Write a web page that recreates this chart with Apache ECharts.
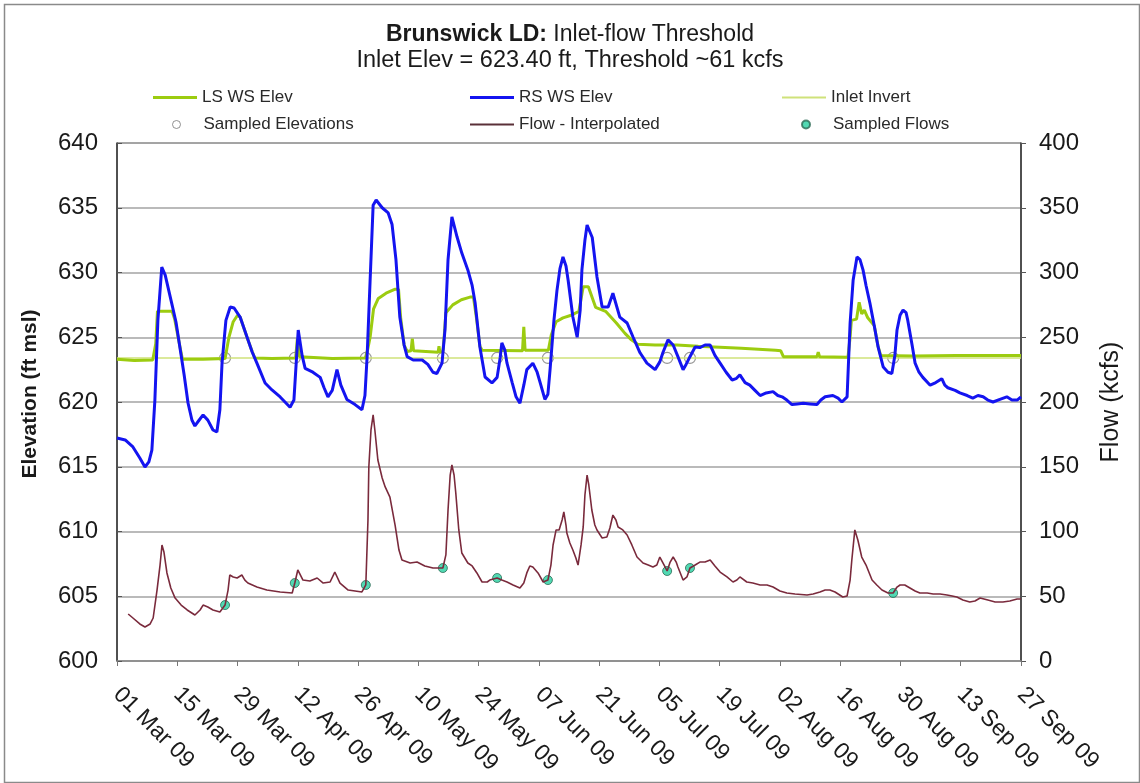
<!DOCTYPE html>
<html>
<head>
<meta charset="utf-8">
<script src="https://cdn.jsdelivr.net/npm/echarts@6/dist/echarts.min.js"></script>
<style>
html,body{margin:0;padding:0;background:#fff;}
#chart{width:1140px;height:783px;}
</style>
</head>
<body>
<div id="chart"></div>
<script>
// x values are days since 01 Mar 2009
const xTickLabels = ['01 Mar 09','15 Mar 09','29 Mar 09','12 Apr 09','26 Apr 09','10 May 09','24 May 09','07 Jun 09','21 Jun 09','05 Jul 09','19 Jul 09','02 Aug 09','16 Aug 09','30 Aug 09','13 Sep 09','27 Sep 09'];
const elevTicks = [600, 605, 610, 615, 620, 625, 630, 635, 640];
const flowTicks = [0, 50, 100, 150, 200, 250, 300, 350, 400];
const inletInvert = 623.40;

const rsElev = [[0,617.22],[1.9,617.07],[3.7,616.53],[5.3,615.68],[6.5,614.98],[7.4,615.37],[8.1,616.29],[8.8,620.15],[9.5,626.33],[10.4,630.42],[11.2,629.8],[12.7,627.64],[13.7,626.18],[14.6,624.25],[15.6,622.09],[16.5,619.92],[17.4,618.61],[18.1,618.15],[19.1,618.61],[20.0,619.0],[21.1,618.6],[22.3,617.84],[23.2,617.68],[23.9,619.4],[24.4,623.0],[25.3,626.3],[26.3,627.34],[27.2,627.26],[28.6,626.56],[30.2,625.02],[31.4,623.86],[32.5,623.0],[34.4,621.47],[36.0,620.93],[37.9,620.39],[40.2,619.6],[41.1,620.15],[42.1,625.56],[43.0,623.6],[43.7,622.6],[45.5,622.3],[47.2,621.9],[48.1,621.1],[49.0,620.4],[50.0,620.9],[51.1,622.5],[52.0,621.3],[53.4,620.2],[55.3,619.8],[56.9,619.4],[57.6,620.5],[58.1,623.5],[58.8,629.4],[59.5,635.2],[60.2,635.6],[61.6,635.0],[63.0,634.6],[63.9,633.7],[64.8,631.0],[65.7,626.56],[66.7,624.4],[67.4,623.5],[68.8,623.24],[70.9,623.24],[72.2,622.9],[73.4,622.3],[74.3,622.2],[75.5,623.0],[76.2,625.6],[76.9,631.0],[77.8,634.29],[79.0,632.74],[80.1,631.5],[81.5,630.2],[82.5,629.0],[83.2,627.64],[84.3,624.25],[85.5,621.93],[87.1,621.47],[88.3,621.9],[89.0,623.4],[89.4,624.56],[90.1,624.0],[90.6,623.0],[91.8,621.5],[92.7,620.4],[93.6,619.9],[94.5,621.3],[95.2,622.5],[96.6,623.0],[97.6,622.3],[98.3,621.5],[99.4,620.2],[100.1,620.6],[100.6,622.5],[101.5,626.3],[102.2,628.6],[102.9,630.3],[103.6,631.2],[104.3,630.5],[104.8,629.4],[105.9,626.56],[106.9,625.0],[107.6,627.1],[108.0,630.2],[108.7,632.5],[109.2,633.67],[110.4,632.7],[111.5,629.65],[112.7,627.34],[114.1,627.34],[115.2,628.4],[116.8,626.56],[118.5,626.1],[119.9,625.0],[121.5,623.8],[123.1,623.0],[125.0,622.5],[126.1,623.1],[126.8,623.8],[128.0,624.8],[129.2,624.4],[130.3,623.5],[131.5,622.5],[132.2,622.9],[133.1,623.5],[134.3,624.25],[135.4,624.2],[136.6,624.4],[137.8,624.4],[138.9,623.6],[140.1,623.0],[141.5,622.3],[142.9,621.7],[143.8,621.8],[144.7,622.1],[145.9,621.5],[147.0,621.3],[148.2,620.9],[149.4,620.5],[150.8,620.7],[152.4,620.8],[153.5,620.5],[154.5,620.4],[155.6,620.15],[156.8,619.8],[158.0,619.85],[159.4,619.9],[161.0,619.85],[162.6,619.8],[163.5,620.15],[164.5,620.4],[166.3,620.5],[167.5,620.3],[168.4,620.0],[169.6,620.4],[170.3,626.1],[171.0,629.4],[171.9,631.2],[172.6,631.0],[173.3,630.2],[174.0,629.0],[174.9,627.64],[175.9,625.9],[176.8,624.25],[178.0,622.7],[179.1,622.3],[180.0,622.2],[180.7,623.6],[181.2,625.56],[181.9,626.7],[182.6,627.1],[183.3,626.9],[183.7,626.3],[184.7,624.4],[185.4,623.0],[186.3,622.3],[187.2,621.9],[188.9,621.3],[190.2,621.5],[191.6,621.8],[192.3,621.3],[193.0,621.1],[194.7,620.9],[195.8,620.7],[197.5,620.5],[198.8,620.3],[200.0,620.5],[201.2,620.4],[202.3,620.15],[203.5,620.0],[205.1,620.2],[206.7,620.4],[207.9,620.15],[209.1,620.15],[210,620.4]];

const lsElev = [[0,623.3],[4,623.2],[8.3,623.25],[9.0,624.5],[9.4,627.0],[12.8,627.0],[13.4,626.4],[14.6,624.3],[15.2,623.3],[20,623.3],[25.1,623.35],[26.0,625.0],[27.0,626.2],[28.0,626.7],[28.6,626.56],[30.2,625.0],[31.4,623.9],[32.0,623.4],[36,623.35],[41.5,623.4],[41.9,624.9],[42.4,623.5],[50,623.35],[57.7,623.4],[58.2,624.0],[58.8,625.0],[59.6,627.2],[60.7,628.0],[62.5,628.4],[64.5,628.7],[65.4,628.7],[65.9,626.5],[66.7,624.4],[67.4,623.9],[68.3,623.95],[68.6,624.9],[68.9,623.95],[74.6,623.85],[74.8,624.3],[75.0,623.85],[75.7,623.9],[76.0,625.0],[76.4,626.9],[78.0,627.5],[80.0,627.9],[82.0,628.1],[82.8,628.1],[83.5,626.5],[84.3,624.3],[84.8,624.0],[94.2,623.95],[94.5,625.8],[94.8,624.0],[100.2,624.0],[100.9,625.2],[102.0,626.2],[103.6,626.5],[105.5,626.7],[107.3,627.0],[108.3,628.9],[109.5,628.9],[111.2,627.3],[113.5,627.0],[116.0,626.1],[118.0,625.3],[119.5,624.8],[121.0,624.45],[125,624.4],[130,624.4],[135,624.3],[145,624.15],[153,624.0],[154.2,623.95],[154.8,623.5],[162.6,623.5],[162.9,623.85],[163.2,623.5],[169.8,623.45],[170.3,625.0],[170.6,626.3],[171.8,626.4],[172.4,627.7],[173.0,626.8],[173.6,627.1],[174.4,626.5],[175.9,625.9],[176.8,624.3],[177.4,623.6],[185,623.55],[195,623.6],[210,623.6]];

const flowInterp = [[2.6,36.3],[3.7,33.2],[5.3,28.6],[6.5,26.3],[7.7,28.6],[8.4,33.2],[9.3,54.8],[10.0,74.1],[10.45,89.6],[10.9,84.2],[11.6,68.0],[12.5,56.4],[13.5,48.6],[14.9,43.2],[16.3,39.4],[18.1,35.5],[19.3,39.4],[20.0,43.2],[21.1,41.7],[22.3,39.4],[23.9,37.8],[25.1,43.2],[25.8,54.8],[26.2,66.4],[27.0,64.9],[27.9,64.1],[29.0,66.4],[29.7,62.5],[30.4,60.2],[32.5,57.1],[34.8,54.8],[37.9,53.3],[40.7,52.5],[41.3,60.2],[42.0,70.3],[43.2,62.5],[44.8,61.8],[46.5,64.1],[47.9,60.2],[49.5,61.0],[50.6,68.7],[51.8,60.2],[53.7,54.8],[55.3,54.1],[56.9,53.3],[57.8,58.7],[58.3,108.9],[58.5,149.8],[59.0,178.4],[59.5,190.0],[59.9,178.4],[60.6,155.2],[61.6,141.3],[62.3,134.4],[63.4,126.6],[64.6,105.0],[65.5,85.7],[66.2,78.0],[68.1,75.7],[69.7,76.4],[71.5,73.4],[73.4,71.8],[75.7,71.8],[76.4,81.9],[76.9,116.6],[77.4,143.6],[77.8,151.4],[78.3,143.6],[78.7,129.7],[79.4,101.2],[80.1,83.4],[81.5,75.7],[82.5,73.4],[83.6,68.0],[84.8,61.0],[86.0,61.0],[86.6,62.5],[88.3,64.1],[89.4,62.5],[90.6,61.0],[92.0,58.7],[93.6,56.4],[94.5,60.2],[95.2,68.0],[95.9,73.4],[96.6,72.6],[97.8,68.0],[99.0,61.0],[100.1,62.5],[100.8,74.1],[101.3,89.6],[102.0,101.2],[102.7,101.2],[103.4,108.9],[103.8,115.1],[104.3,105.0],[104.5,98.8],[105.2,91.1],[105.9,85.7],[106.6,79.5],[107.1,74.1],[107.8,89.6],[108.3,103.5],[108.7,128.2],[109.2,143.6],[109.6,135.9],[110.3,116.6],[111.0,105.0],[111.5,101.2],[112.7,95.0],[113.8,95.8],[114.5,102.7],[115.2,112.7],[115.9,108.9],[116.4,103.5],[117.5,101.2],[118.5,97.3],[119.6,89.6],[120.8,80.3],[122.2,75.7],[123.4,74.1],[124.5,72.6],[125.4,74.1],[126.1,80.3],[127.1,74.1],[127.8,69.5],[128.5,76.4],[129.2,80.3],[129.9,76.4],[130.3,72.6],[131.5,62.5],[132.4,64.9],[133.1,71.8],[134.3,74.1],[135.4,76.4],[136.6,76.4],[137.8,78.0],[138.9,73.4],[140.1,68.7],[141.7,64.9],[143.1,61.0],[144.0,62.5],[144.7,64.9],[146.3,61.0],[147.7,60.2],[149.4,58.7],[151.0,58.7],[152.4,57.1],[154.0,54.1],[155.6,52.5],[157.5,51.7],[160.3,51.0],[161.7,51.7],[163.3,53.3],[164.5,54.8],[165.6,54.8],[166.8,53.3],[168.6,49.4],[169.6,50.2],[170.3,62.5],[170.7,78.0],[171.4,101.2],[172.1,93.4],[173.0,80.3],[174.0,74.1],[175.4,62.5],[176.5,58.7],[177.7,54.8],[179.1,52.5],[180.3,52.5],[181.2,57.1],[181.9,58.7],[183.0,58.7],[184.2,56.4],[185.4,54.1],[186.5,52.5],[188.2,52.5],[189.6,51.7],[191.2,51.7],[192.8,51.0],[194.0,50.2],[195.1,49.4],[196.5,47.1],[198.1,45.6],[199.3,46.3],[200.5,48.6],[202.3,47.1],[204.0,45.6],[205.8,45.6],[207.4,46.3],[209.1,47.9],[210,47.9]];

const sampleDays = [25.1, 41.3, 57.8, 75.7, 88.3, 100.1, 127.8, 133.1, 180.3];
const sampleElevs = [623.4, 623.4, 623.4, 623.4, 623.4, 623.4, 623.4, 623.4, 623.4];
const sampleFlows = [43.2, 60.2, 58.7, 71.8, 64.1, 62.5, 69.5, 71.8, 52.5];

const FONT = '"Liberation Sans", Arial, sans-serif';
const chart = echarts.init(document.getElementById('chart'));

function legendBox(name, left, top, icon, w, h, extra) {
  return Object.assign({
    show: true, left: left, top: top, orient: 'horizontal',
    itemWidth: w, itemHeight: h, padding: 0, selectedMode: false,
    data: [{ name: name, icon: icon }],
    textStyle: { fontFamily: FONT, fontSize: 17, color: '#2a2a2a' }
  }, extra || {});
}

const option = {
  backgroundColor: '#ffffff',
  animation: false,
  textStyle: { fontFamily: FONT },
  title: [
    { text: '{b|Brunswick LD:} Inlet-flow Threshold', left: 'center', top: 18,
      textStyle: { fontFamily: FONT, fontSize: 23, fontWeight: 'normal', color: '#1a1a1a',
        rich: { b: { fontFamily: FONT, fontSize: 23, fontWeight: 'bold', color: '#1a1a1a' } } } },
    { text: 'Inlet Elev = 623.40 ft, Threshold ~61 kcfs', left: 'center', top: 44,
      textStyle: { fontFamily: FONT, fontSize: 23.5, fontWeight: 'normal', color: '#1a1a1a' } }
  ],
  legend: [
    legendBox('LS WS Elev', 153, 89, 'rect', 44, 3),
    legendBox('RS WS Elev', 470, 89, 'rect', 44, 3),
    legendBox('Inlet Invert', 782, 89, 'rect', 44, 2),
    legendBox('Sampled Elevations', 172, 116, 'circle', 44, 8,
      { data: [{ name: 'Sampled Elevations', icon: 'circle', itemStyle: { color: '#ffffff', borderColor: '#777777', borderWidth: 1 } }] }),
    legendBox('Flow - Interpolated', 470, 116, 'rect', 44, 2),
    legendBox('Sampled Flows', 801, 116, 'circle', 44, 8)
  ],
  grid: { left: 117, right: 119, top: 143, bottom: 122, show: true, borderColor: '#555', borderWidth: 1 },
  xAxis: {
    type: 'value', min: 0, max: 210, interval: 14,
    axisLine: { show: true, lineStyle: { color: '#8a8a8a', width: 1.5 } },
    axisTick: { show: true, inside: false, length: 5, lineStyle: { color: '#777' } },
    splitLine: { show: false },
    axisLabel: {
      rotate: -45, margin: 30, fontFamily: FONT, fontSize: 23, color: '#1a1a1a',
      formatter: function (v) { return xTickLabels[Math.round(v / 14)] || ''; }
    }
  },
  yAxis: [
    {
      type: 'value', min: elevTicks[0], max: elevTicks[elevTicks.length - 1], interval: 5,
      position: 'left',
      name: 'Elevation (ft msl)', nameLocation: 'middle', nameGap: 76, nameRotate: 90,
      nameTextStyle: { fontFamily: FONT, fontSize: 21, fontWeight: 'bold', color: '#1a1a1a', padding: [0, 0, 0, 16] },
      axisLine: { show: true, lineStyle: { color: '#333', width: 1.5 } },
      axisTick: { show: true, inside: true, length: 5, lineStyle: { color: '#555' } },
      splitLine: { show: true, lineStyle: { color: '#a3a3a3', width: 1.5 } },
      axisLabel: { margin: 19, fontFamily: FONT, fontSize: 24, color: '#1a1a1a' }
    },
    {
      type: 'value', min: flowTicks[0], max: flowTicks[flowTicks.length - 1], interval: 50,
      position: 'right',
      name: 'Flow (kcfs)', nameLocation: 'middle', nameGap: 78, nameRotate: 90,
      nameTextStyle: { fontFamily: FONT, fontSize: 25, fontWeight: 'normal', color: '#1a1a1a' },
      axisLine: { show: true, lineStyle: { color: '#333', width: 1.5 } },
      axisTick: { show: true, inside: false, length: 5, lineStyle: { color: '#555' } },
      splitLine: { show: false },
      axisLabel: { margin: 18, fontFamily: FONT, fontSize: 24, color: '#1a1a1a' }
    }
  ],
  series: [
    {
      name: 'Inlet Invert', type: 'line', yAxisIndex: 0, showSymbol: false, silent: true,
      data: [[0, inletInvert], [210, inletInvert]],
      itemStyle: { color: '#cfe27a' },
      lineStyle: { color: '#cfe27a', width: 1.5 }
    },
    {
      name: 'LS WS Elev', type: 'line', yAxisIndex: 0, showSymbol: false,
      data: lsElev,
      itemStyle: { color: '#9ccc10' },
      lineStyle: { color: '#9ccc10', width: 3 }
    },
    {
      name: 'RS WS Elev', type: 'line', yAxisIndex: 0, showSymbol: false,
      data: rsElev,
      itemStyle: { color: '#1414f0' },
      lineStyle: { color: '#1414f0', width: 3 }
    },
    {
      name: 'Flow - Interpolated', type: 'line', yAxisIndex: 1, showSymbol: false,
      data: flowInterp,
      itemStyle: { color: '#5a3038' },
      lineStyle: { color: '#7a2a3c', width: 1.6 }
    },
    {
      name: 'Sampled Elevations', type: 'scatter', yAxisIndex: 0, symbol: 'circle', symbolSize: 11,
      data: sampleDays.map(function (d, i) { return [d, sampleElevs[i]]; }),
      itemStyle: { color: 'rgba(255,255,255,0)', borderColor: '#7a7a7a', borderWidth: 1.2 }
    },
    {
      name: 'Sampled Flows', type: 'scatter', yAxisIndex: 1, symbol: 'circle', symbolSize: 9,
      data: sampleDays.map(function (d, i) { return [d, sampleFlows[i]]; }),
      itemStyle: { color: '#25d0a0', borderColor: '#2d6a55', borderWidth: 1 }
    }
  ],
  graphic: [
    { type: 'rect', left: 2, top: 2, shape: { width: 1135, height: 778 }, silent: true,
      style: { fill: 'none', stroke: '#8a8a8a', lineWidth: 1.5 } }
  ]
};
chart.setOption(option);
</script>
</body>
</html>
